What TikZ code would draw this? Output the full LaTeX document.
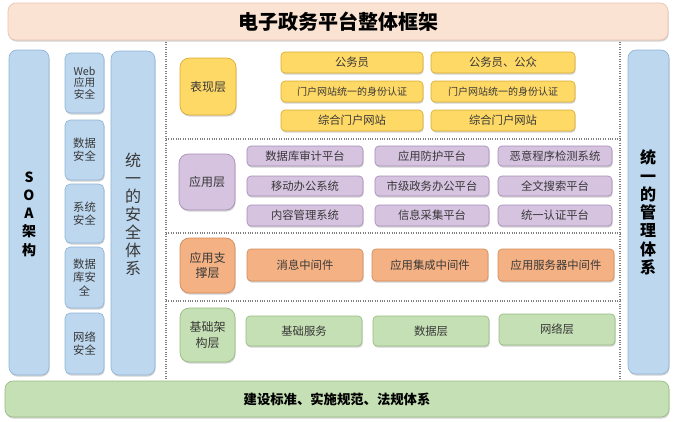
\documentclass[tikz,border=0pt]{standalone}
\usepackage{fontspec}
\setmainfont{Noto Sans CJK SC}
\usetikzlibrary{shadows}
\definecolor{peach}{HTML}{FBE3D4}
\definecolor{peachb}{HTML}{E9C3AE}
\definecolor{lblue}{HTML}{BDD7EE}
\definecolor{lblueb}{HTML}{8FB4D8}
\definecolor{yel}{HTML}{FFD966}
\definecolor{yelb}{HTML}{D9AE30}
\definecolor{purp}{HTML}{D6C3E0}
\definecolor{purpb}{HTML}{A88DB8}
\definecolor{oran}{HTML}{F4B183}
\definecolor{oranb}{HTML}{D48A58}
\definecolor{gren}{HTML}{C5E0B4}
\definecolor{grenb}{HTML}{96BC80}
\definecolor{txt}{HTML}{383838}
\newcommand\mybox[7]{%
  \pgfmathsetmacro\bw{(#5-#3)*0.75}%
  \pgfmathsetmacro\bh{(#6-#4)*0.75}%
  \node[#2, minimum width=\bw pt, minimum height=\bh pt, inner sep=0pt] (#1) at ({(#3+#5)/2},{(#4+#6)/2}) {#7};}
\tikzset{
  base/.style={rounded corners=4pt, line width=0.5pt, text=txt, align=center,
    drop shadow={shadow xshift=0.5pt, shadow yshift=-1.2pt, opacity=0.35}},
  titlebox/.style={base, fill=peach, draw=peachb, rounded corners=6pt, text=black, font=\fontsize{15}{18}\selectfont\bfseries},
  bluecol/.style={base, fill=lblue, draw=lblueb, rounded corners=6pt},
  secbox/.style={base, fill=lblue, draw=lblueb, font=\fontsize{8.5}{10}\selectfont},
  ybox/.style={base, fill=yel, draw=yelb, rounded corners=3pt, font=\fontsize{8.5}{10}\selectfont},
  pbox/.style={base, fill=purp, draw=purpb, rounded corners=3pt, font=\fontsize{8.5}{10}\selectfont},
  obox/.style={base, fill=oran, draw=oranb, rounded corners=3pt, font=\fontsize{8.5}{10}\selectfont},
  gbox/.style={base, fill=gren, draw=grenb, rounded corners=3pt, font=\fontsize{8.5}{10}\selectfont},
  layer/.style={base, rounded corners=7pt, font=\fontsize{9}{11.5}\selectfont},
  sep/.style={densely dotted, draw=gray, line width=0.8pt},
  vtext/.style={align=center, inner sep=0pt}
}
\begin{document}
\begin{tikzpicture}[x=0.75pt, y=-0.75pt]
\useasboundingbox (0,0) rectangle (674,421);
% title
\mybox{title}{titlebox}{8}{3}{668}{40}{电子政务平台整体框架}
% left columns
\mybox{soa}{bluecol}{9}{50}{49}{375}{}
\node[vtext, font=\fontsize{10.5}{13.7}\selectfont\bfseries, text=black] (soat) at (29,214) {S\\O\\A\\架\\构};
\mybox{s1}{secbox, font=\fontsize{8}{8.6}\selectfont}{65}{53}{104}{113}{Web\\应用\\安全}
\mybox{s2}{secbox}{65}{120}{104}{180}{数据\\安全}
\mybox{s3}{secbox}{65}{184}{104}{243}{系统\\安全}
\mybox{s4}{secbox}{65}{247}{104}{308}{数据\\库安\\全}
\mybox{s5}{secbox}{65}{313}{104}{374}{网络\\安全}
\mybox{sec}{bluecol}{111}{51}{155}{375}{}
\node[vtext, font=\fontsize{12}{13.5}\selectfont, text=txt] (sect) at (133,214) {统\\一\\的\\安\\全\\体\\系};
% right column
\mybox{mgmt}{bluecol}{628}{50}{669}{374}{}
\node[vtext, font=\fontsize{12}{13.7}\selectfont\bfseries, text=black] (mgmtt) at (648,212.5) {统\\一\\的\\管\\理\\体\\系};
% bottom bar
\mybox{bottom}{base, fill=gren, draw=grenb, rounded corners=6pt, text=black, font=\fontsize{10}{12}\selectfont\bfseries}{5}{381}{669}{417}{建设标准、实施规范、法规体系}
% separators
\coordinate (v1t) at (166,42); \coordinate (v1b) at (166,380);
\coordinate (v2t) at (620,42); \coordinate (v2b) at (620,380);
\coordinate (h1l) at (166,139); \coordinate (h1r) at (620,139);
\coordinate (h2l) at (166,233); \coordinate (h2r) at (620,233);
\coordinate (h3l) at (166,301); \coordinate (h3r) at (620,301);
\draw[sep] (v1t) -- (v1b);
\draw[sep] (v2t) -- (v2b);
\draw[sep] (h1l) -- (h1r);
\draw[sep] (h2l) -- (h2r);
\draw[sep] (h3l) -- (h3r);
% presentation layer
\mybox{L1}{layer, fill=yel, draw=yelb}{180}{58}{236}{115}{表现层}
\mybox{y11}{ybox}{281}{52}{423}{73}{公务员}
\mybox{y12}{ybox}{431}{52}{575}{73}{公务员、公众}
\mybox{y21}{ybox, font=\fontsize{7.5}{9}\selectfont}{281}{81}{423}{102}{门户网站统一的身份认证}
\mybox{y22}{ybox, font=\fontsize{7.5}{9}\selectfont}{431}{81}{575}{102}{门户网站统一的身份认证}
\mybox{y31}{ybox}{281}{110}{423}{131}{综合门户网站}
\mybox{y32}{ybox}{431}{110}{575}{131}{综合门户网站}
% application layer
\mybox{L2}{layer, fill=purp, draw=purpb}{179}{154}{235}{210}{应用层}
\mybox{p11}{pbox}{247}{146}{363}{166}{数据库审计平台}
\mybox{p12}{pbox}{375}{146}{489}{166}{应用防护平台}
\mybox{p13}{pbox}{498}{146}{612}{166}{恶意程序检测系统}
\mybox{p21}{pbox}{247}{176}{363}{196}{移动办公系统}
\mybox{p22}{pbox}{375}{176}{489}{196}{市级政务办公平台}
\mybox{p23}{pbox}{498}{176}{612}{196}{全文搜索平台}
\mybox{p31}{pbox}{247}{205}{363}{226}{内容管理系统}
\mybox{p32}{pbox}{375}{205}{489}{226}{信息采集平台}
\mybox{p33}{pbox}{498}{205}{612}{226}{统一认证平台}
% support layer
\mybox{L3}{layer, fill=oran, draw=oranb}{180}{238}{235}{293}{应用支\\撑层}
\mybox{o1}{obox}{247}{249}{363}{281}{消息中间件}
\mybox{o2}{obox}{372}{249}{488}{281}{应用集成中间件}
\mybox{o3}{obox}{498}{249}{614}{281}{应用服务器中间件}
% infrastructure layer
\mybox{L4}{layer, fill=gren, draw=grenb}{180}{308}{235}{362}{基础架\\构层}
\mybox{g1}{gbox}{246}{316}{362}{346}{基础服务}
\mybox{g2}{gbox}{373}{316}{489}{346}{数据层}
\mybox{g3}{gbox}{499}{314}{615}{345}{网络层}
\end{tikzpicture}
\end{document}
